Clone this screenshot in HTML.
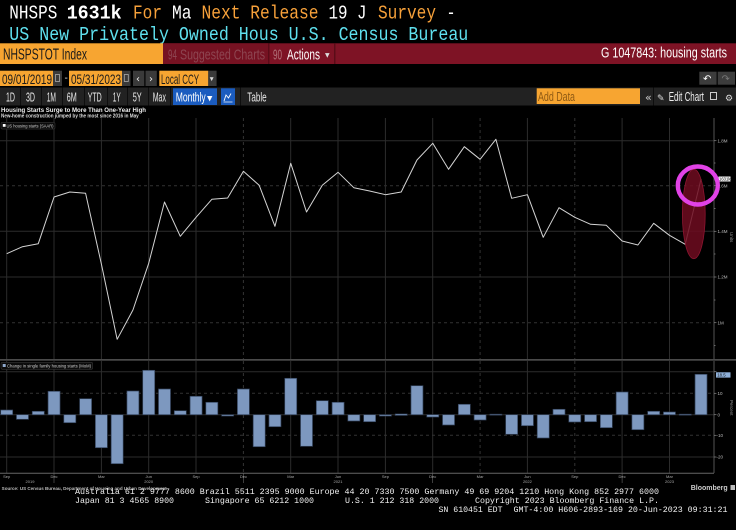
<!DOCTYPE html>
<html><head><meta charset="utf-8"><style>
html,body{margin:0;padding:0;background:#000;}
svg{display:block;}
.mono{font-family:"Liberation Mono","DejaVu Sans Mono",monospace;}
.sans{font-family:"Liberation Sans","DejaVu Sans",sans-serif;}
.sym{font-family:"DejaVu Sans","Liberation Sans",sans-serif;}
</style></head><body>
<svg width="736" height="530" viewBox="0 0 736 530" xmlns="http://www.w3.org/2000/svg">
<rect x="0" y="0" width="736" height="530" fill="#000"/>

<!-- Header line 1 -->
<g class="mono" font-size="19">
<text x="9.3" y="18.5" fill="#fff" textLength="48" lengthAdjust="spacingAndGlyphs">NHSPS</text>
<text x="66.7" y="18.5" fill="#fff" font-weight="bold" textLength="55" lengthAdjust="spacingAndGlyphs">1631k</text>
<text x="133" y="18.5" fill="#f7a13a" textLength="29" lengthAdjust="spacingAndGlyphs">For</text>
<text x="172" y="18.5" fill="#fff" textLength="19.5" lengthAdjust="spacingAndGlyphs">Ma</text>
<text x="201.5" y="18.5" fill="#f7a13a" textLength="117" lengthAdjust="spacingAndGlyphs">Next Release</text>
<text x="328.5" y="18.5" fill="#fff" textLength="38" lengthAdjust="spacingAndGlyphs">19 J</text>
<text x="378" y="18.5" fill="#f7a13a" textLength="58" lengthAdjust="spacingAndGlyphs">Survey</text>
<text x="446.5" y="18.5" fill="#fff" textLength="9" lengthAdjust="spacingAndGlyphs">-</text>
<text x="9.3" y="40" fill="#5fe0ee" textLength="459" lengthAdjust="spacingAndGlyphs">US New Privately Owned Hous U.S. Census Bureau</text>
</g>

<!-- Row 3 -->
<rect x="0" y="43.3" width="163" height="20.7" fill="#f7a531"/>
<rect x="163" y="43.3" width="573" height="20.7" fill="#7e1325"/>
<rect x="163" y="43.3" width="105" height="20.7" fill="#761222"/>
<rect x="268" y="43.3" width="1.5" height="20.7" fill="#5a0c18"/>
<rect x="334" y="43.3" width="1.5" height="20.7" fill="#5a0c18"/>
<g class="sans">
<text x="3" y="59.3" font-size="15.5" fill="#1a1a1a" textLength="84" lengthAdjust="spacingAndGlyphs">NHSPSTOT Index</text>
<text x="168" y="59.3" font-size="15" fill="#8e4652" textLength="9" lengthAdjust="spacingAndGlyphs">94</text>
<text x="180" y="59.3" font-size="15" fill="#8e4652" textLength="85" lengthAdjust="spacingAndGlyphs">Suggested Charts</text>
<text x="273" y="59.3" font-size="15" fill="#b07078" textLength="9" lengthAdjust="spacingAndGlyphs">90</text>
<text x="287" y="59.3" font-size="15" fill="#fff" textLength="33" lengthAdjust="spacingAndGlyphs">Actions</text>
<text x="601" y="57.5" font-size="15" fill="#fff" textLength="126" lengthAdjust="spacingAndGlyphs">G 1047843: housing starts</text>
</g>
<text x="325" y="57" class="sym" font-size="6" fill="#ddd">▼</text>

<!-- Row 4 -->
<rect x="0" y="70.7" width="53" height="15.3" fill="#f7a531"/>
<rect x="53" y="70.7" width="9" height="15.3" fill="#3a3a3a"/>
<rect x="55.5" y="74.5" width="4" height="7" fill="none" stroke="#aaa" stroke-width="0.8"/>
<text x="64.5" y="81" class="sans" font-size="10" fill="#ddd">-</text>
<rect x="69" y="70.7" width="53" height="15.3" fill="#f7a531"/>
<rect x="122" y="70.7" width="8.5" height="15.3" fill="#3a3a3a"/>
<rect x="124.3" y="74.5" width="4" height="7" fill="none" stroke="#aaa" stroke-width="0.8"/>
<rect x="133" y="70.7" width="11.3" height="15.3" fill="#3a3a3a"/>
<rect x="145.5" y="70.7" width="11.3" height="15.3" fill="#3a3a3a"/>
<text x="136" y="82" class="sym" font-size="10" fill="#eee">‹</text>
<text x="149" y="82" class="sym" font-size="10" fill="#eee">›</text>
<rect x="159.3" y="70.7" width="49" height="15.3" fill="#f7a531"/>
<rect x="208.3" y="70.7" width="8.3" height="15.3" fill="#3a3a3a"/>
<text x="209.8" y="80.5" class="sym" font-size="5" fill="#ddd">▼</text>
<g class="sans" font-size="14" fill="#1a1a1a">
<text x="2" y="84" textLength="50" lengthAdjust="spacingAndGlyphs">09/01/2019</text>
<text x="71" y="84" textLength="50" lengthAdjust="spacingAndGlyphs">05/31/2023</text>
<text x="161" y="84" textLength="38" lengthAdjust="spacingAndGlyphs">Local CCY</text>
</g>
<rect x="699.3" y="71.7" width="17.3" height="13" fill="#3c3c3c"/>
<rect x="717.7" y="71.7" width="17.3" height="13" fill="#3c3c3c"/>
<text x="703" y="82" class="sym" font-size="10" fill="#fff">↶</text>
<text x="721.5" y="82" class="sym" font-size="10" fill="#777">↷</text>

<!-- Row 5 -->
<rect x="0" y="87.5" width="736" height="18" fill="#222"/>
<g fill="#0e0e0e">
<rect x="20" y="87.5" width="1" height="18"/><rect x="41" y="87.5" width="1" height="18"/>
<rect x="62" y="87.5" width="1" height="18"/><rect x="84" y="87.5" width="1" height="18"/>
<rect x="107" y="87.5" width="1" height="18"/><rect x="127" y="87.5" width="1" height="18"/>
<rect x="148" y="87.5" width="1" height="18"/><rect x="170" y="87.5" width="1" height="18"/>
<rect x="240" y="87.5" width="1" height="18"/><rect x="653" y="87.5" width="1" height="18"/>
</g>
<rect x="173" y="88.3" width="44" height="16.7" fill="#1b5cbf"/>
<rect x="221" y="88.3" width="14" height="16.7" fill="#1b5cbf"/>
<polyline points="224,101 226,95 228.5,98 231,93.5" fill="none" stroke="#fff" stroke-width="0.9"/>
<line x1="223.5" y1="102" x2="232.5" y2="102" stroke="#fff" stroke-width="0.7"/>
<g class="sans" font-size="12.5" fill="#e8e8e8">
<text x="6" y="101.5" textLength="9" lengthAdjust="spacingAndGlyphs">1D</text>
<text x="26" y="101.5" textLength="9" lengthAdjust="spacingAndGlyphs">3D</text>
<text x="46.7" y="101.5" textLength="9.3" lengthAdjust="spacingAndGlyphs">1M</text>
<text x="66.7" y="101.5" textLength="10" lengthAdjust="spacingAndGlyphs">6M</text>
<text x="87.7" y="101.5" textLength="14" lengthAdjust="spacingAndGlyphs">YTD</text>
<text x="112.7" y="101.5" textLength="8" lengthAdjust="spacingAndGlyphs">1Y</text>
<text x="132.7" y="101.5" textLength="9" lengthAdjust="spacingAndGlyphs">5Y</text>
<text x="152.7" y="101.5" textLength="13.3" lengthAdjust="spacingAndGlyphs">Max</text>
<text x="175.7" y="101.5" fill="#fff" textLength="30" lengthAdjust="spacingAndGlyphs">Monthly</text>
<text x="247.3" y="101.5" textLength="19.4" lengthAdjust="spacingAndGlyphs">Table</text>
</g>
<text x="207" y="100.5" class="sym" font-size="7" fill="#fff">▼</text>
<rect x="536.7" y="88.3" width="103.3" height="15.7" fill="#f7a531"/>
<text x="538" y="101" class="sans" font-size="12.5" fill="#8f5a14" textLength="37" lengthAdjust="spacingAndGlyphs">Add Data</text>
<text x="645" y="101" class="sym" font-size="11" fill="#ccc">«</text>
<text x="657" y="101" class="sym" font-size="9" fill="#ddd">✎</text>
<text x="668.7" y="101" class="sans" font-size="12.5" fill="#eee" textLength="35.3" lengthAdjust="spacingAndGlyphs">Edit Chart</text>
<rect x="710.5" y="92.5" width="6" height="7" fill="none" stroke="#ccc" stroke-width="1"/>
<text x="725" y="101" class="sym" font-size="9" fill="#ddd">⚙</text>

<!-- Chart titles -->
<g class="sans" font-weight="bold">
<text x="1" y="112" font-size="6.2" fill="#eee" textLength="145" lengthAdjust="spacingAndGlyphs">Housing Starts Surge to More Than One-Year High</text>
<text x="1" y="117.3" font-size="5" fill="#ddd" textLength="137.7" lengthAdjust="spacingAndGlyphs">New-home construction jumped by the most since 2016 in May</text>
</g>

<!-- Top panel grid -->
<g stroke="#2c2c2c" stroke-width="1">
<line x1="0" y1="140.7" x2="714" y2="140.7"/>
<line x1="0" y1="231.3" x2="714" y2="231.3"/>
<line x1="0" y1="277" x2="714" y2="277"/>
</g>
<g stroke="#333" stroke-width="1" stroke-dasharray="3,3">
<line x1="0" y1="185.7" x2="714" y2="185.7"/>
<line x1="0" y1="322.7" x2="714" y2="322.7"/>
</g>
<g stroke="#2c2c2c" stroke-width="1">
<line x1="6.7" y1="118" x2="6.7" y2="359"/>
<line x1="54" y1="118" x2="54" y2="359"/>
<line x1="101.4" y1="118" x2="101.4" y2="359"/>
<line x1="148.7" y1="118" x2="148.7" y2="359"/>
<line x1="196" y1="118" x2="196" y2="359"/>
<line x1="290.7" y1="118" x2="290.7" y2="359"/>
<line x1="338" y1="118" x2="338" y2="359"/>
<line x1="385.4" y1="118" x2="385.4" y2="359"/>
<line x1="432.7" y1="118" x2="432.7" y2="359"/>
<line x1="527.4" y1="118" x2="527.4" y2="359"/>
<line x1="622.1" y1="118" x2="622.1" y2="359"/>
<line x1="669.5" y1="118" x2="669.5" y2="359"/>
<line x1="6.7" y1="361" x2="6.7" y2="473"/>
<line x1="54" y1="361" x2="54" y2="473"/>
<line x1="101.4" y1="361" x2="101.4" y2="473"/>
<line x1="148.7" y1="361" x2="148.7" y2="473"/>
<line x1="196" y1="361" x2="196" y2="473"/>
<line x1="290.7" y1="361" x2="290.7" y2="473"/>
<line x1="338" y1="361" x2="338" y2="473"/>
<line x1="385.4" y1="361" x2="385.4" y2="473"/>
<line x1="432.7" y1="361" x2="432.7" y2="473"/>
<line x1="527.4" y1="361" x2="527.4" y2="473"/>
<line x1="622.1" y1="361" x2="622.1" y2="473"/>
<line x1="669.5" y1="361" x2="669.5" y2="473"/>
</g>
<g stroke="#333" stroke-width="1" stroke-dasharray="3,3">
<line x1="243.4" y1="118" x2="243.4" y2="359"/>
<line x1="480.1" y1="118" x2="480.1" y2="359"/>
<line x1="574.8" y1="118" x2="574.8" y2="359"/>
<line x1="243.4" y1="361" x2="243.4" y2="473"/>
<line x1="480.1" y1="361" x2="480.1" y2="473"/>
<line x1="574.8" y1="361" x2="574.8" y2="473"/>
</g>

<!-- Top legend -->
<rect x="1" y="122.3" width="54" height="6.8" rx="1.5" fill="#0c0c0c" stroke="#333" stroke-width="0.6"/>
<rect x="2.8" y="124" width="2.8" height="2.8" fill="#fff"/>
<text x="6.5" y="127.6" class="sans" font-size="4.2" fill="#ccc" textLength="47" lengthAdjust="spacingAndGlyphs">US housing starts (SAAR)</text>

<!-- Line series -->
<polyline fill="none" stroke="#d4d4d4" stroke-width="1" stroke-linejoin="round" points="6.7,253.7 22.48,246.7 38.26,243.7 54.04,197 69.82,192 85.6,193.3 101.38,264 117.16,339.3 132.94,310 148.72,263.3 164.5,202 180.28,236.3 196.06,217.3 211.84,199.3 227.62,198 243.4,171.3 259.18,185.3 274.96,226.3 290.74,163.3 306.52,212 322.3,185.3 338.08,172.3 353.86,187.7 369.64,191 385.42,194.7 401.2,192 416.98,160 432.76,143.3 448.54,169.3 464.32,146.7 480.1,159.3 495.88,139.3 511.66,198.3 527.44,194.7 543.22,237.3 559,207.7 574.78,217.3 590.56,224.3 606.34,225.3 622.12,241 637.9,245 653.68,223.3 669.46,235.3 685.24,244.3 701.02,179"/>

<!-- Right axis top -->
<line x1="714" y1="118" x2="714" y2="359" stroke="#555" stroke-width="1"/>
<g stroke="#888" stroke-width="0.7">
<line x1="714" y1="140.7" x2="716.5" y2="140.7"/><line x1="714" y1="185.7" x2="716.5" y2="185.7"/>
<line x1="714" y1="231.3" x2="716.5" y2="231.3"/><line x1="714" y1="277" x2="716.5" y2="277"/>
<line x1="714" y1="322.7" x2="716.5" y2="322.7"/>
<line x1="714" y1="163" x2="715.5" y2="163"/><line x1="714" y1="208.5" x2="715.5" y2="208.5"/>
<line x1="714" y1="254" x2="715.5" y2="254"/><line x1="714" y1="300" x2="715.5" y2="300"/>
<line x1="714" y1="345.5" x2="715.5" y2="345.5"/>
</g>
<g class="sans" font-size="4.5" fill="#bbb">
<text x="717.5" y="142.3">1.8M</text>
<text x="717.5" y="187.3">1.6M</text>
<text x="717.5" y="232.9">1.4M</text>
<text x="717.5" y="278.6">1.2M</text>
<text x="717.5" y="324.3">1M</text>
</g>
<text x="730" y="232" class="sans" font-size="4.5" fill="#999" transform="rotate(90 730 232)">Units</text>

<!-- Annotations -->
<ellipse cx="693.8" cy="214" rx="11.4" ry="44.7" fill="#6e0c20" fill-opacity="0.86" stroke="#8c1530" stroke-width="0.8"/>
<rect x="718.5" y="176.5" width="12" height="5" fill="#f4f4f4"/>
<text x="719" y="180.6" class="sans" font-size="4.2" fill="#111">1631k</text>
<ellipse cx="697.8" cy="185.5" rx="20" ry="19" fill="none" stroke="#e142e6" stroke-width="4.4"/>

<!-- Panel separator -->
<rect x="0" y="359" width="736" height="1.7" fill="#4a4a4a"/>

<!-- Bottom grid -->
<g stroke="#2c2c2c" stroke-width="1">
<line x1="0" y1="371.7" x2="714" y2="371.7"/>
<line x1="0" y1="414.7" x2="714" y2="414.7"/>
<line x1="0" y1="457" x2="714" y2="457"/>
</g>
<g stroke="#333" stroke-width="1" stroke-dasharray="3,3">
<line x1="0" y1="393.3" x2="714" y2="393.3"/>
<line x1="0" y1="435.3" x2="714" y2="435.3"/>
</g>

<!-- Bottom legend -->
<rect x="1" y="362.3" width="91.7" height="7" rx="1.5" fill="#0c0c0c" stroke="#333" stroke-width="0.6"/>
<rect x="2.7" y="364" width="3" height="3" fill="#8ea8cc"/>
<text x="7" y="367.7" class="sans" font-size="4.2" fill="#ccc" textLength="84" lengthAdjust="spacingAndGlyphs">Change in single family housing starts (MoM)</text>

<!-- Bars -->
<g fill="#7d98bf" stroke="#33425a" stroke-width="0.7">
<rect x="0.7" y="410" width="12" height="4.7"/>
<rect x="16.48" y="414.7" width="12" height="4.6"/>
<rect x="32.26" y="411.3" width="12" height="3.4"/>
<rect x="48.04" y="391.3" width="12" height="23.4"/>
<rect x="63.82" y="414.7" width="12" height="8"/>
<rect x="79.6" y="398.7" width="12" height="16"/>
<rect x="95.38" y="414.7" width="12" height="33"/>
<rect x="111.16" y="414.7" width="12" height="49"/>
<rect x="126.94" y="391" width="12" height="23.7"/>
<rect x="142.72" y="370.3" width="12" height="44.4"/>
<rect x="158.5" y="389" width="12" height="25.7"/>
<rect x="174.28" y="410.7" width="12" height="4"/>
<rect x="190.06" y="396.3" width="12" height="18.4"/>
<rect x="205.84" y="402.3" width="12" height="12.4"/>
<rect x="221.62" y="414.7" width="12" height="1.3"/>
<rect x="237.4" y="389" width="12" height="25.7"/>
<rect x="253.18" y="414.7" width="12" height="32"/>
<rect x="268.96" y="414.7" width="12" height="12"/>
<rect x="284.74" y="378.3" width="12" height="36.4"/>
<rect x="300.52" y="414.7" width="12" height="31.6"/>
<rect x="316.3" y="400.7" width="12" height="14"/>
<rect x="332.08" y="402.3" width="12" height="12.4"/>
<rect x="347.86" y="414.7" width="12" height="6.3"/>
<rect x="363.64" y="414.7" width="12" height="7"/>
<rect x="379.42" y="414.7" width="12" height="1.3"/>
<rect x="395.2" y="414" width="12" height="1.4"/>
<rect x="410.98" y="385.7" width="12" height="29"/>
<rect x="426.76" y="414.7" width="12" height="2.3"/>
<rect x="442.54" y="414.7" width="12" height="10.3"/>
<rect x="458.32" y="404.3" width="12" height="10.4"/>
<rect x="474.1" y="414.7" width="12" height="5.3"/>
<rect x="489.88" y="414.2" width="12" height="0.9"/>
<rect x="505.66" y="414.7" width="12" height="19.6"/>
<rect x="521.44" y="414.7" width="12" height="11"/>
<rect x="537.22" y="414.7" width="12" height="23.3"/>
<rect x="553" y="409.3" width="12" height="5.4"/>
<rect x="568.78" y="414.7" width="12" height="7.3"/>
<rect x="584.56" y="414.7" width="12" height="7"/>
<rect x="600.34" y="414.7" width="12" height="13"/>
<rect x="616.12" y="392" width="12" height="22.7"/>
<rect x="631.9" y="414.7" width="12" height="15"/>
<rect x="647.68" y="411.3" width="12" height="3.4"/>
<rect x="663.46" y="412" width="12" height="2.7"/>
<rect x="679.24" y="414.2" width="12" height="0.9"/>
<rect x="695.02" y="374.3" width="12" height="40.4"/>
</g>

<!-- Right axis bottom -->
<line x1="714" y1="361" x2="714" y2="473" stroke="#555" stroke-width="1"/>
<g stroke="#888" stroke-width="0.7">
<line x1="714" y1="371.7" x2="716.5" y2="371.7"/><line x1="714" y1="393.3" x2="716.5" y2="393.3"/>
<line x1="714" y1="414.7" x2="716.5" y2="414.7"/><line x1="714" y1="435.3" x2="716.5" y2="435.3"/>
<line x1="714" y1="457" x2="716.5" y2="457"/>
</g>
<g class="sans" font-size="4.5" fill="#bbb">
<text x="717.5" y="394.9">10</text>
<text x="717.5" y="416.3">0</text>
<text x="716.5" y="436.9">-10</text>
<text x="716.5" y="458.6">-20</text>
</g>
<rect x="716" y="372.3" width="14.5" height="5.3" fill="#8fb0d8"/>
<text x="717.3" y="376.6" class="sans" font-size="4.3" fill="#111">18.5</text>
<text x="730" y="400" class="sans" font-size="4.5" fill="#999" transform="rotate(90 730 400)">Percent</text>

<!-- Bottom axis -->
<line x1="0" y1="473.3" x2="714" y2="473.3" stroke="#666" stroke-width="1"/>
<g stroke="#666" stroke-width="0.6">
<line x1="54" y1="473.3" x2="54" y2="483"/>
<line x1="243.4" y1="473.3" x2="243.4" y2="483"/>
<line x1="432.7" y1="473.3" x2="432.7" y2="483"/>
<line x1="622.1" y1="473.3" x2="622.1" y2="483"/>
</g>
<g class="sans" font-size="4" fill="#aaa" text-anchor="middle">
<text x="6.7" y="478">Sep</text><text x="54" y="478">Dec</text><text x="101.4" y="478">Mar</text><text x="148.7" y="478">Jun</text>
<text x="196" y="478">Sep</text><text x="243.4" y="478">Dec</text><text x="290.7" y="478">Mar</text><text x="338" y="478">Jun</text>
<text x="385.4" y="478">Sep</text><text x="432.7" y="478">Dec</text><text x="480.1" y="478">Mar</text><text x="527.4" y="478">Jun</text>
<text x="574.8" y="478">Sep</text><text x="622.1" y="478">Dec</text><text x="669.5" y="478">Mar</text>
<text x="30" y="483">2019</text><text x="148.7" y="483">2020</text><text x="338" y="483">2021</text>
<text x="527.4" y="483">2022</text><text x="669.5" y="483">2023</text>
</g>

<!-- Footer -->
<text x="1.7" y="490" class="sans" font-size="4.3" font-weight="bold" fill="#bbb" textLength="165" lengthAdjust="spacingAndGlyphs">Source: US Census Bureau, Department of Housing and Urban Development</text>
<text x="690.7" y="490" class="sans" font-size="7" font-weight="bold" fill="#ccc" textLength="37" lengthAdjust="spacingAndGlyphs">Bloomberg</text>
<rect x="730.5" y="485" width="4.5" height="5" fill="#bbb"/>
<g class="mono" font-size="8.4" fill="#f2f2f2">
<text x="75" y="494.2" textLength="584" lengthAdjust="spacingAndGlyphs">Australia 61 2 9777 8600 Brazil 5511 2395 9000 Europe 44 20 7330 7500 Germany 49 69 9204 1210 Hong Kong 852 2977 6000</text>
<text x="75" y="503.2" textLength="99" lengthAdjust="spacingAndGlyphs">Japan 81 3 4565 8900</text>
<text x="205" y="503.2" textLength="109" lengthAdjust="spacingAndGlyphs">Singapore 65 6212 1000</text>
<text x="345" y="503.2" textLength="94" lengthAdjust="spacingAndGlyphs">U.S. 1 212 318 2000</text>
<text x="475" y="503.2" textLength="184" lengthAdjust="spacingAndGlyphs">Copyright 2023 Bloomberg Finance L.P.</text>
<text x="438.5" y="512.2" textLength="64" lengthAdjust="spacingAndGlyphs">SN 610451 EDT</text>
<text x="513.5" y="512.2" textLength="214" lengthAdjust="spacingAndGlyphs">GMT-4:00 H606-2893-169 20-Jun-2023 09:31:21</text>
</g>
</svg>
</body></html>
